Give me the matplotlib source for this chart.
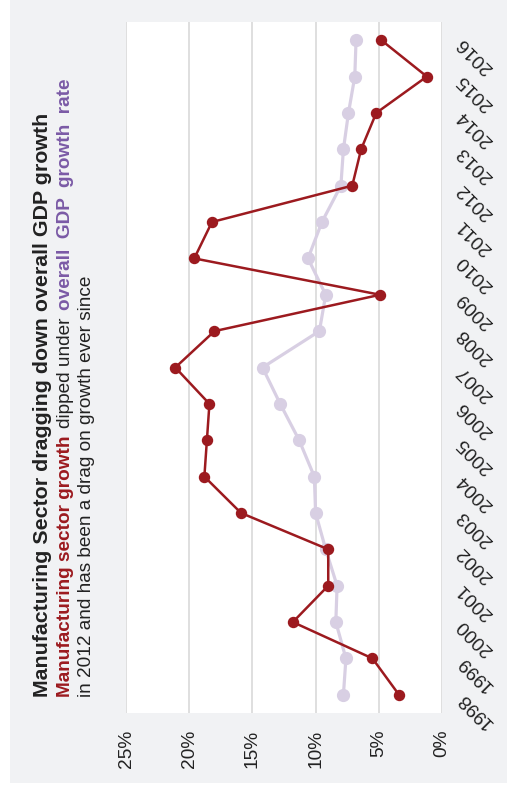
import matplotlib.pyplot as plt
from matplotlib.patches import Rectangle

plt.rcParams['font.family'] = ['Liberation Sans', 'DejaVu Sans']

# growth rates by year, percent
years = [1998, 1999, 2000, 2001, 2002, 2003, 2004, 2005, 2006, 2007,
         2008, 2009, 2010, 2011, 2012, 2013, 2014, 2015, 2016]
manufacturing = [3.4, 5.5, 11.8, 9.0, 9.0, 15.9, 18.8, 18.6, 18.4, 21.1,
                 18.0, 4.9, 19.6, 18.2, 7.1, 6.4, 5.2, 1.2, 4.8]
gdp = [7.8, 7.6, 8.4, 8.3, 9.2, 10.0, 10.1, 11.3, 12.8, 14.2,
       9.7, 9.2, 10.6, 9.5, 8.0, 7.8, 7.4, 6.9, 6.8]
pct_ticks = [0, 5, 10, 15, 20, 25]
pct_labels = ['0%', '5%', '10%', '15%', '20%', '25%']

RED = '#9c1a1f'
LAVENDER = '#d8cfe3'
PURPLE = '#7b5aa6'
INK = '#222222'
BG = '#f1f2f4'

W, H = 507, 796
fig = plt.figure(figsize=(W / 100, H / 100), dpi=100, facecolor='white')
fig.patches.append(Rectangle((10 / W, 13 / H), 1, 1, transform=fig.transFigure,
                             facecolor=BG, edgecolor='none', zorder=-10))

ax = fig.add_axes([126 / W, 83 / H, 316 / W, 691 / H])
ax.set_facecolor('white')
ax.plot(gdp, years, color=LAVENDER, lw=2.3, marker='o', ms=8.5, zorder=3)
ax.plot(manufacturing, years, color=RED, lw=1.8, marker='o', ms=7.2, zorder=4)

ax.set_xlim(25, 0)
ax.set_ylim(1997.5, 2016.5)
ax.set_xticks(pct_ticks)
ax.set_xticklabels(pct_labels, rotation=90, fontsize=13.8, color=INK)
ax.tick_params(axis='x', length=0, pad=12)
ax.grid(axis='x', color='#dcdcdc', lw=1.3)
ax.set_axisbelow(True)
for s in ax.spines.values():
    s.set_visible(False)

ax.yaxis.tick_right()
ax.set_yticks(years)
ax.set_yticklabels([str(y) for y in years], fontsize=13.8, color=INK)
ax.tick_params(axis='y', length=0, pad=13)
for lab in ax.get_yticklabels():
    lab.set_rotation(135)
    lab.set_rotation_mode('anchor')
    lab.set_ha('right')
    lab.set_va('center')


def vertical_line_of_text(x, y, pieces, size, gap_em=0.3):
    # lay out coloured pieces bottom-to-top along one rotated line
    fig.canvas.draw()
    r = fig.canvas.get_renderer()
    gap = gap_em * size / 72 * 100 / H
    for txt, color, weight in pieces:
        t = fig.text(x, y, txt, rotation=90, rotation_mode='anchor',
                     ha='left', va='baseline', fontsize=size,
                     color=color, fontweight=weight)
        bb = t.get_window_extent(renderer=r)
        y += bb.height / H + gap


vertical_line_of_text(48 / W, 99 / H,
                      [('Manufacturing Sector dragging down overall GDP growth', INK, 'bold')], 15.4)
vertical_line_of_text(70 / W, 99 / H,
                      [('Manufacturing sector growth', RED, 'bold'),
                       ('dipped under', INK, 'normal'),
                       ('overall  GDP  growth  rate', PURPLE, 'bold')], 13.7, gap_em=0.4)
vertical_line_of_text(91 / W, 99 / H,
                      [('in 2012 and has been a drag on growth ever since', INK, 'normal')], 13.7)

fig.savefig('out.png', dpi=100, facecolor=fig.get_facecolor())
